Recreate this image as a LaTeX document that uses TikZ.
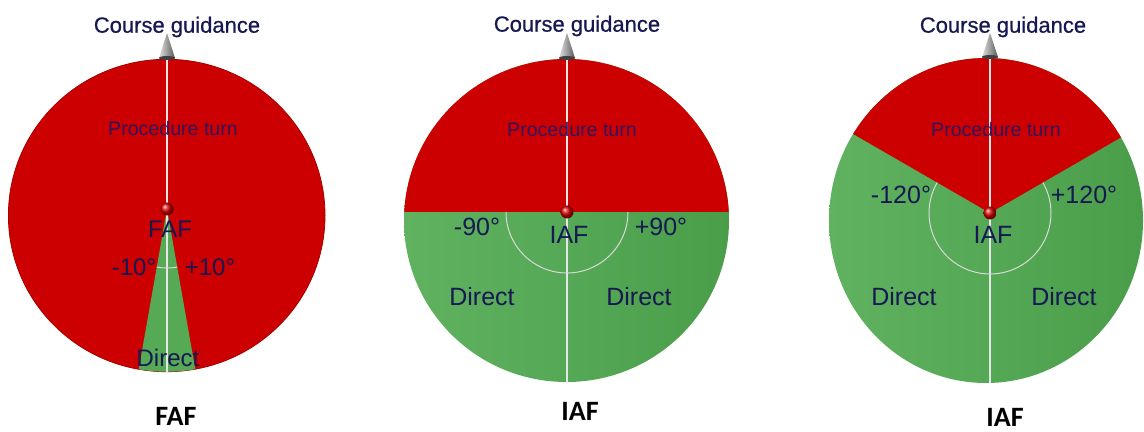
\documentclass[tikz,border=0pt]{standalone}
\usepackage{fontspec}
\setmainfont{Liberation Sans}
\newfontfamily\guidefont[FakeBold=0.7]{Liberation Sans}
\newfontfamily\capfont{Carlito}
\usepackage{xcolor}
\usepackage{tikz}

\definecolor{turnred}{RGB}{204,0,0}
\definecolor{directlt}{RGB}{96,178,96}
\definecolor{directmid}{RGB}{86,170,86}
\definecolor{directdk}{RGB}{74,158,74}
\definecolor{labelnavy}{RGB}{22,24,82}
\definecolor{turntext}{RGB}{52,20,92}
\definecolor{axisgray}{RGB}{230,230,230}

\begin{document}
\begin{tikzpicture}[
  x=0.5pt, y=-0.5pt,
  lbl/.style={text=labelnavy, inner sep=0pt,
              font=\fontsize{12.5}{14}\selectfont},
  turnlbl/.style={text=turntext, inner sep=0pt,
                  font=\fontsize{9.8}{12}\selectfont},
  guidelbl/.style={text=labelnavy, inner sep=0pt,
                   font=\guidefont\fontsize{11}{13}\selectfont},
  caplbl/.style={text=black, inner sep=0pt,
                 font=\capfont\bfseries\fontsize{14}{16}\selectfont},
  turn/.style={fill=turnred},
  direct/.style={left color=directlt, right color=directdk},
  axis/.style={draw=axisgray, line width=1.3pt},
  sweep/.style={draw=gray!30, line width=0.5pt},
  cone/.style={left color=gray!25, right color=gray!70!black},
  fix/.style={ball color=red!85!black},
]
\useasboundingbox (0,0) rectangle (1144,432);

%% ── Left disc: FAF, narrow direct sector of +-10 deg ───────────────────────
\coordinate (fafA) at (167,209);
\fill[turn, draw=turnred!80!black, line width=0.4pt]
  (166.7,215.5) ellipse[x radius=158.3, y radius=156.2];
\begin{scope}
  \clip (166.7,215.5) ellipse[x radius=158.3, y radius=156.2];
  \fill[directmid] (fafA) -- +(80:220) -- +(100:220) -- cycle;
\end{scope}
\coordinate (topA) at (167,59.3);
\coordinate (botA) at (167,371.7);
\draw[axis] (topA) -- (botA);
\draw[sweep] (fafA) ++(80:59) arc[start angle=80, end angle=100, radius=59];

%% ── Middle disc: IAF, direct entry below +-90 deg ──────────────────────────
\coordinate (iafB) at (567,212);
\shade[direct] (566.5,220.5) ellipse[x radius=162.5, y radius=161.5];
\begin{scope}
  \clip (566.5,220.5) ellipse[x radius=162.5, y radius=161.5];
  \fill[turn] (400,212) rectangle (735,50);
\end{scope}
\coordinate (topB) at (567,59);
\coordinate (botB) at (567,382);
\draw[axis] (topB) -- (botB);
\draw[sweep] (iafB) ++(0:61) arc[start angle=0, end angle=180, radius=61];

%% ── Right disc: IAF, direct entry below +-120 deg ──────────────────────────
\coordinate (iafC) at (990,213);
\shade[direct] (986,220.5) ellipse[x radius=157, y radius=162.5];
\begin{scope}
  \clip (986,220.5) ellipse[x radius=157, y radius=162.5];
  \fill[turn] (iafC) -- +(210:260) -- +(270:260) -- +(330:260) -- cycle;
\end{scope}
\coordinate (topC) at (990,58);
\coordinate (botC) at (990,383);
\draw[axis] (topC) -- (botC);
\draw[sweep] (iafC) ++(-30:61) arc[start angle=-30, end angle=210, radius=61];

%% Fix markers (small red spheres)
\shade[fix] (fafA) circle[radius=6.5];
\shade[fix] (iafB) circle[radius=6.5];
\shade[fix] (iafC) circle[radius=6.5];

%% Course guidance pointers on top of each disc
\shade[cone] (167,33) -- (175,58) -- (159,58) -- cycle;
\fill[black!75] (167,58) ellipse[x radius=8, y radius=2];
\shade[cone] (567,33) -- (575,58) -- (559,58) -- cycle;
\fill[black!75] (567,58) ellipse[x radius=8, y radius=2];
\shade[cone] (990,33) -- (998,57) -- (982,57) -- cycle;
\fill[black!75] (990,57) ellipse[x radius=8, y radius=2];

%% ── Labels ─────────────────────────────────────────────────────────────────
\node[guidelbl] (guideA) at (177,27) {Course guidance};
\node[guidelbl] (guideB) at (577,26) {Course guidance};
\node[guidelbl] (guideC) at (1003,27) {Course guidance};

\node[turnlbl] (turnA) at (173,128) {Procedure turn};
\node[turnlbl] (turnB) at (572,129) {Procedure turn};
\node[turnlbl] (turnC) at (996,129) {Procedure turn};

\node[lbl, font=\fontsize{12}{14}\selectfont] (fixA) at (170,229) {FAF};
\node[lbl, font=\fontsize{12}{14}\selectfont] (minA) at (134,267) {-10°};
\node[lbl, font=\fontsize{12}{14}\selectfont] (plusA) at (210,267) {+10°};
\node[lbl, font=\fontsize{12}{14}\selectfont] (directA) at (168,358) {Direct};

\node[lbl] (fixB) at (569,235) {IAF};
\node[lbl] (minB) at (477,227) {-90°};
\node[lbl] (plusB) at (661,227) {+90°};
\node[lbl] (directBl) at (482,297) {Direct};
\node[lbl] (directBr) at (639,297) {Direct};

\node[lbl] (fixC) at (993,235) {IAF};
\node[lbl] (minC) at (901,195) {-120°};
\node[lbl] (plusC) at (1084,195) {+120°};
\node[lbl] (directCl) at (904,297) {Direct};
\node[lbl] (directCr) at (1064,297) {Direct};

%% Captions under the discs
\node[caplbl] (capA) at (176,416) {FAF};
\node[caplbl] (capB) at (580,411) {IAF};
\node[caplbl] (capC) at (1005,417) {IAF};

\end{tikzpicture}
\end{document}
